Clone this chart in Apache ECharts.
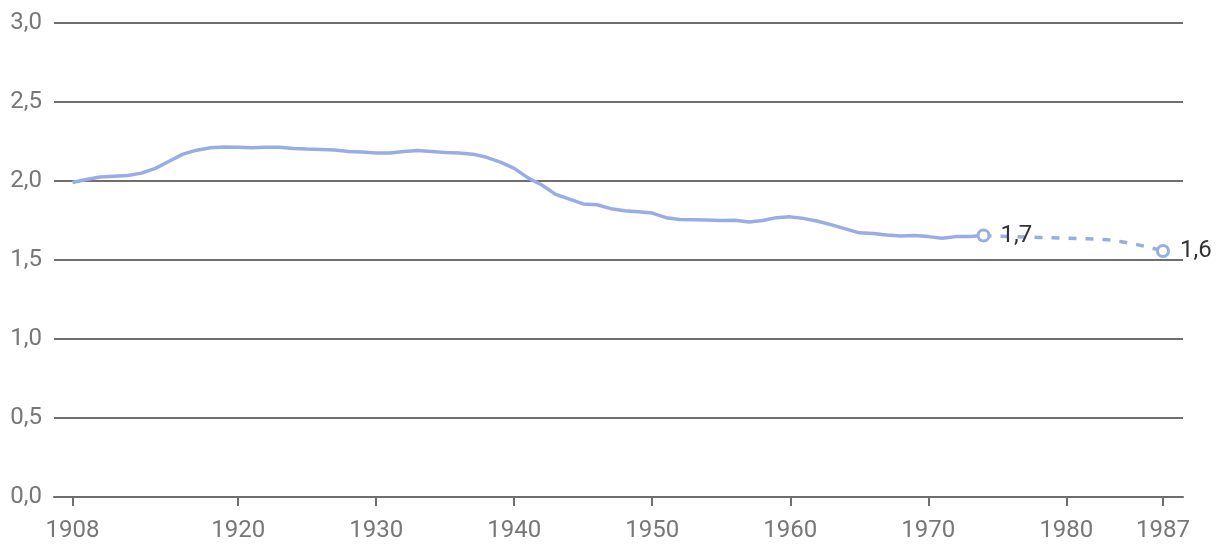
<!DOCTYPE html>
<html>
<head>
<meta charset="utf-8">
<script src="https://cdn.jsdelivr.net/npm/echarts@6/dist/echarts.min.js"></script>
<style>html,body{margin:0;padding:0;background:#fff;}#c{width:1220px;height:558px;}</style>
</head>
<body>
<div id="c"></div>
<script>
const years = [1908,1909,1910,1911,1912,1913,1914,1915,1916,1917,1918,1919,1920,1921,1922,1923,1924,1925,1926,1927,1928,1929,1930,1931,1932,1933,1934,1935,1936,1937,1938,1939,1940,1941,1942,1943,1944,1945,1946,1947,1948,1949,1950,1951,1952,1953,1954,1955,1956,1957,1958,1959,1960,1961,1962,1963,1964,1965,1966,1967,1968,1969,1970,1971,1972,1973,1974];
const values = [1.99,2.01,2.025,2.03,2.035,2.05,2.08,2.125,2.17,2.195,2.21,2.215,2.213,2.21,2.213,2.213,2.206,2.202,2.199,2.196,2.186,2.184,2.177,2.177,2.186,2.193,2.187,2.181,2.177,2.17,2.15,2.12,2.08,2.02,1.975,1.915,1.885,1.855,1.85,1.825,1.812,1.805,1.797,1.768,1.757,1.755,1.753,1.75,1.751,1.74,1.75,1.768,1.773,1.762,1.745,1.722,1.697,1.672,1.668,1.658,1.652,1.655,1.648,1.638,1.648,1.648,1.655];
const projYears = [1974,1975,1976,1977,1978,1979,1980,1981,1982,1983,1984,1985,1986,1987];
const projValues = [1.655,1.65,1.648,1.645,1.643,1.641,1.638,1.636,1.633,1.628,1.616,1.6,1.58,1.557];
const xTicks = [1908,1920,1930,1940,1950,1960,1970,1980,1987];

const lineColor = '#98ade4';
const fmt = v => v.toFixed(1).replace('.', ',');

const solid = years.map((y,i)=>[y, values[i]]);
const dashed = projYears.map((y,i)=>[y, projValues[i]]);
const labelPts = new Set([1974, 1987]);

const chart = echarts.init(document.getElementById('c'), null, {renderer:'canvas'});
chart.setOption({
  animation: false,
  backgroundColor: '#fff',
  grid: {left: 54, right: 37, top: 23, bottom: 61, containLabel: false},
  xAxis: {
    type: 'value', min: 1906.66, max: 1988.45,
    axisLine: {show: true, lineStyle: {color: '#6e6e6e', width: 2}},
    axisTick: {show: true, customValues: xTicks, length: 9, lineStyle: {color: '#6e6e6e', width: 2}},
    axisLabel: {show: true, customValues: xTicks, formatter: v => String(v), color: '#777', fontFamily: 'Roboto', fontSize: 24, margin: 22},
    splitLine: {show: false}
  },
  yAxis: {
    type: 'value', min: 0, max: 3, interval: 0.5,
    axisLine: {show: false}, axisTick: {show: false},
    axisLabel: {formatter: v => fmt(v), color: '#777', fontFamily: 'Roboto', fontSize: 24, margin: 12},
    splitLine: {show: true, lineStyle: {color: '#6e6e6e', width: 2}}
  },
  series: [
    {
      type: 'line', data: solid, showSymbol: false, symbol: 'none',
      lineStyle: {color: lineColor, width: 3.5}, smooth: false, z: 3
    },
    {
      type: 'line', data: dashed, symbol: 'circle',
      showSymbol: true, showAllSymbol: true,
      itemStyle: {color: '#fff', borderColor: lineColor, borderWidth: 3},
      lineStyle: {color: lineColor, width: 3.5, type: [8, 9]}, z: 4,
      label: {
        show: true, position: 'right', distance: 10,
        color: '#333', fontFamily: 'Roboto', fontSize: 24,
        formatter: p => labelPts.has(p.value[0]) ? fmt(p.value[1]) : ''
      },
      symbolSize: (v) => labelPts.has(v[0]) ? 11 : 0
    }
  ]
});
</script>
</body>
</html>
